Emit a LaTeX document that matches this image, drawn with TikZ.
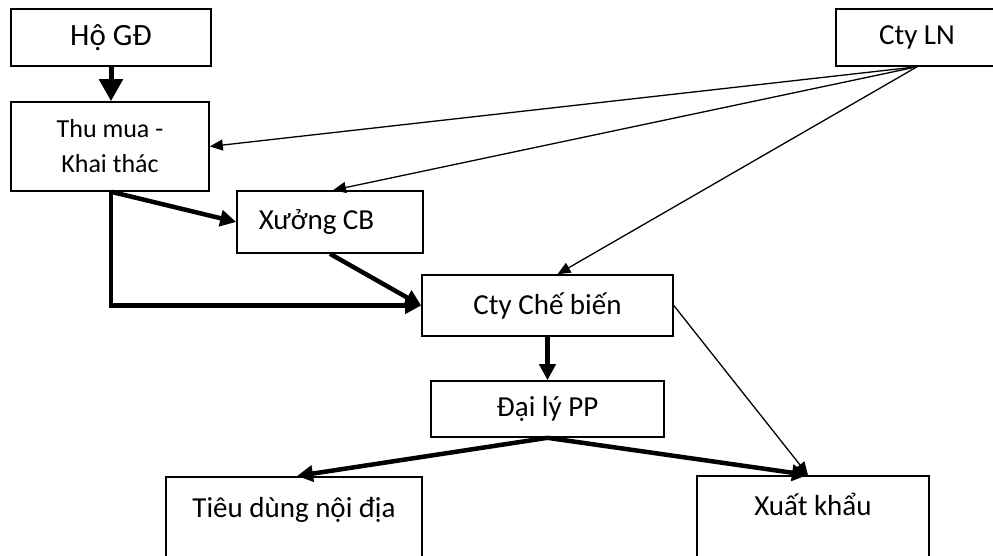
\documentclass[tikz,border=0pt]{standalone}
\usepackage{fontspec}
\setmainfont{Carlito}
\usetikzlibrary{arrows.meta,calc}
\begin{document}
\begin{tikzpicture}[x=1pt,y=-1pt,
  box/.style={draw,line width=1.6pt,inner sep=0pt,font=\fontsize{29}{35}\selectfont},
  heavy link/.style={line width=4.5pt,-{Triangle[length=16pt,width=16pt]}},
  light link/.style={line width=1.3pt,-{Triangle[length=13pt,width=11pt]}},
]
\useasboundingbox (0,0) rectangle (993,556);
\clip (0,0) rectangle (993,556);

% boxes
\node[box,font=\fontsize{31}{37}\selectfont,minimum width=200pt,minimum height=57pt] (ho) at (111,37.5) {Hộ GĐ};
\node[box,minimum width=162pt,minimum height=57pt] (ln) at (917,37.5) {Cty LN};
\node[box,align=center,font=\fontsize{26}{35}\selectfont,minimum width=198pt,minimum height=89pt] (thu) at (110,146.5) {Thu mua -\\Khai thác};
\node[box,minimum width=186pt,minimum height=62pt] (xuong) at (330,222) {\hspace*{-27pt}Xưởng CB};
\node[box,minimum width=251pt,minimum height=61pt] (cb) at (547.5,305.5) {Cty Chế biến};
\node[box,minimum width=233pt,minimum height=56pt] (dl) at (547.5,409) {Đại lý PP};
\node[box,anchor=north,minimum width=256pt,text height=41pt,text depth=70pt] (td) at (294,476) {Tiêu dùng nội địa};
\node[box,anchor=north,minimum width=232pt,text height=40pt,text depth=70pt] (xk) at (813,475) {Xuất khẩu};

% heavy flows
\draw[heavy link,line width=5pt,-{Triangle[length=22pt,width=23pt]}] (ho.south) -- (ho.south |- thu.north);
\coordinate (split) at ($(thu.south west)+(101,0)$);
\draw[heavy link] (split) -- (xuong.west);
\draw[heavy link] (split) |- (cb.west);
\draw[heavy link] (xuong.south) -- (cb.west);
\draw[heavy link] (cb.south) -- (dl.north);
\draw[heavy link] (dl.south) -- ($(td.north)+(3,0)$);
\draw[heavy link] (dl.south) -- ($(xk.north)+(-5,0)$);

% light flows
\draw[light link] (ln.south) -- (thu.east);
\draw[light link] (ln.south) -- ($(xuong.north)+(3,0)$);
\draw[light link] (ln.south) -- ($(cb.north)+(10,0)$);
\draw[light link] (cb.east) -- ($(xk.north)+(-5,0)$);
\end{tikzpicture}
\end{document}
